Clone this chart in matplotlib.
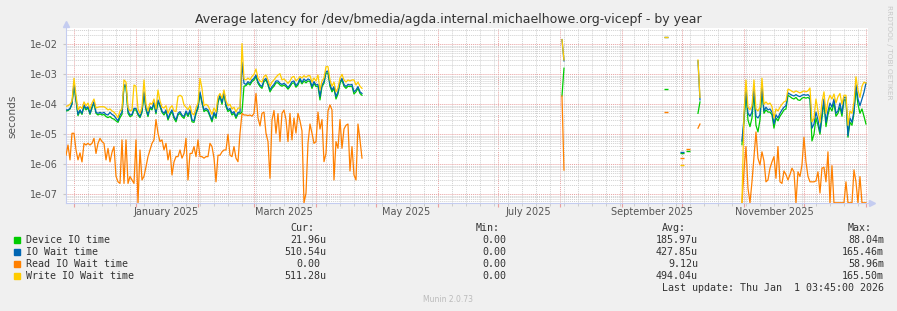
import numpy as np
import pandas as pd
import matplotlib
matplotlib.use('Agg')
import matplotlib.pyplot as plt
import matplotlib.dates as mdates
from matplotlib.ticker import LogLocator, FuncFormatter, NullFormatter
from matplotlib.patches import Rectangle

nan = np.nan

# ---------------------------------------------------------------
# daily averages (seconds), first block starts 2024-11-27
# ---------------------------------------------------------------
seg1_start = '2024-11-27'

device_seg1 = [
    6.0e-5, 6.2e-5, 7.0e-5, 1.0e-4, 4.5e-4, 1.3e-4, 4.2e-5, 6.0e-5, 4.6e-5, 8.5e-5,
    6.5e-5, 7.5e-5, 4.6e-5, 7.5e-5, 1.1e-4, 5.0e-5, 4.4e-5, 4.8e-5, 4.4e-5, 4.6e-5,
    3.9e-5, 3.6e-5, 3.9e-5, 3.4e-5, 3.2e-5, 2.8e-5, 2.5e-5, 3.6e-5, 4.6e-5, 4.0e-4,
    3.9e-4, 5.0e-5, 3.9e-5, 4.2e-5, 6.5e-5, 6.5e-5, 4.4e-5, 3.6e-5, 5.4e-5, 2.3e-4,
    6.5e-5, 3.9e-5, 7.5e-5, 6.5e-5, 1.05e-4, 4.8e-5, 1.25e-4, 8.5e-5, 5.4e-5, 4.4e-5,
    5.7e-5, 3.0e-5, 4.4e-5, 5.7e-5, 3.4e-5, 2.6e-5, 4.4e-5, 5.0e-5, 3.9e-5, 3.4e-5,
    5.4e-5, 3.9e-5, 5.7e-5, 2.6e-5, 2.5e-5, 4.8e-5, 7.3e-5, 2.3e-4, 1.1e-4, 5.7e-5,
    6.5e-5, 5.7e-5, 3.9e-5, 2.6e-5, 4.8e-5, 3.4e-5, 1.16e-4, 1.8e-4, 1.0e-4, 2.3e-4,
    8.3e-5, 5.7e-5, 6.5e-5, 4.4e-5, 5.0e-5, 3.4e-5, 4.8e-5, 4.8e-5, 5.5e-5, 4.0e-4,
    4.2e-4, 5.0e-4, 4.4e-4, 5.7e-4, 6.5e-4, 8.3e-4, 5.0e-4, 3.9e-4, 3.4e-4, 5.7e-4,
    6.5e-4,
    4.4e-4, 2.6e-4, 3.4e-4, 4.0e-4, 5.2e-4, 5.2e-4, 4.4e-4, 4.0e-4, 4.4e-4, 3.9e-4,
    3.2e-4, 3.9e-4, 5.0e-4, 5.2e-4, 3.7e-4, 4.4e-4, 6.5e-4, 4.8e-4, 6.0e-4, 5.2e-4,
    6.0e-4, 5.7e-4, 3.4e-4, 5.0e-4, 3.9e-4, 4.0e-4, 1.4e-4, 3.9e-4, 5.0e-4, 1.1e-3,
    1.1e-3, 4.0e-4, 2.6e-4, 3.4e-4, 1.5e-4, 2.2e-4, 5.0e-4, 6.5e-4, 4.0e-4, 3.4e-4,
    4.0e-4, 3.9e-4, 4.0e-4, 2.2e-4, 2.6e-4, 3.4e-4, 2.3e-4, 2.0e-4,
]

iowait_seg1 = [
    6.5e-5, 6.5e-5, 7.3e-5, 1.08e-4, 5.0e-4, 1.5e-4, 4.6e-5, 6.5e-5, 5.0e-5, 9.5e-5,
    7.3e-5, 8.3e-5, 5.0e-5, 8.3e-5, 1.22e-4, 5.4e-5, 5.0e-5, 5.4e-5, 5.0e-5, 5.4e-5,
    4.6e-5, 4.4e-5, 5.4e-5, 4.6e-5, 4.2e-5, 3.4e-5, 2.8e-5, 4.4e-5, 5.4e-5, 4.4e-4,
    4.4e-4, 6.0e-5, 4.4e-5, 4.6e-5, 7.3e-5, 7.3e-5, 5.0e-5, 3.9e-5, 6.0e-5, 2.6e-4,
    7.3e-5, 4.4e-5, 8.3e-5, 7.3e-5, 1.16e-4, 5.4e-5, 1.39e-4, 9.5e-5, 6.0e-5, 5.0e-5,
    6.5e-5, 3.4e-5, 5.0e-5, 6.5e-5, 3.9e-5, 3.0e-5, 5.0e-5, 5.7e-5, 4.4e-5, 3.9e-5,
    6.0e-5, 4.4e-5, 6.5e-5, 3.0e-5, 2.8e-5, 5.4e-5, 8.3e-5, 2.6e-4, 1.22e-4, 6.5e-5,
    7.3e-5, 6.5e-5, 4.4e-5, 3.0e-5, 5.4e-5, 3.9e-5, 1.3e-4, 2.0e-4, 1.16e-4, 2.6e-4,
    9.5e-5, 6.5e-5, 7.3e-5, 5.0e-5, 5.7e-5, 3.9e-5, 5.4e-5, 5.4e-5, 2.5e-3, 5.0e-4,
    4.6e-4, 5.7e-4, 5.0e-4, 6.5e-4, 7.3e-4, 9.5e-4, 5.7e-4, 4.4e-4, 3.9e-4, 6.5e-4,
    7.3e-4,
    5.0e-4, 3.0e-4, 3.9e-4, 4.6e-4, 6.0e-4, 6.0e-4, 5.0e-4, 4.6e-4, 5.0e-4, 4.4e-4,
    3.6e-4, 4.4e-4, 5.7e-4, 6.0e-4, 4.2e-4, 5.0e-4, 7.3e-4, 5.4e-4, 7.0e-4, 6.0e-4,
    7.0e-4, 6.5e-4, 3.9e-4, 5.7e-4, 4.4e-4, 4.6e-4, 1.8e-4, 4.4e-4, 5.7e-4, 1.22e-3,
    1.29e-3, 4.6e-4, 3.0e-4, 3.9e-4, 1.8e-4, 2.6e-4, 5.7e-4, 7.3e-4, 4.6e-4, 3.9e-4,
    4.6e-4, 4.4e-4, 4.6e-4, 2.6e-4, 3.0e-4, 3.9e-4, 2.6e-4, 2.3e-4,
]

read_seg1 = [
    2.0e-6, 4.4e-6, 1.4e-6, 1.08e-5, 1.08e-5, 3.0e-6, 1.4e-6, 2.4e-6, 1.2e-6, 5.0e-6,
    4.4e-6, 5.0e-6, 4.4e-6, 5.0e-6, 7.3e-6, 2.3e-6, 5.0e-6, 7.3e-6, 5.7e-6, 5.0e-6,
    1.4e-6, 3.4e-6, 1.2e-6, 2.5e-6, 3.9e-6, 4.0e-7, 2.6e-7, 2.3e-7, 6.5e-6, 2.3e-7,
    6.5e-6, 2.3e-7, 3.9e-7, 3.0e-7, 2.3e-7, 6.5e-6, 0.0, 3.0e-6, 3.0e-7, 4.0e-7,
    8.3e-7, 1.8e-6, 3.0e-6, 5.0e-6, 6.5e-6, 3.1e-5, 1.08e-5, 5.7e-6, 6.5e-6, 3.0e-6,
    5.0e-6, 1.4e-6, 3.0e-6, 4.4e-7, 1.2e-6, 1.8e-6, 1.8e-6, 3.0e-6, 1.6e-6, 2.3e-6,
    7.3e-6, 3.0e-7, 2.3e-6, 2.3e-6, 3.9e-6, 1.8e-6, 6.5e-6, 1.8e-6, 1.8e-6, 1.6e-6,
    1.8e-6, 1.8e-6, 5.0e-6, 3.9e-6, 1.6e-6, 2.6e-7, 2.0e-6, 2.0e-6, 2.6e-6, 3.0e-6,
    3.0e-6, 1.0e-5, 2.0e-6, 1.8e-6, 3.9e-6, 1.6e-6, 1.22e-6, 1.08e-5, 5.0e-5, 4.4e-5,
    4.4e-5, 4.2e-5, 4.4e-5, 4.0e-5, 5.0e-5, 2.3e-4, 3.5e-5, 1.9e-5, 5.0e-5, 5.5e-5,
    1.08e-5, 5.7e-6, 3.4e-7, 3.0e-5, 6.2e-5, 1.08e-5, 4.9e-5, 5.7e-6, 5.0e-5, 6.4e-5,
    3.1e-5, 5.7e-6, 5.0e-5, 6.5e-6, 3.5e-5, 1.1e-5, 5.0e-5, 2.8e-5, 1.3e-5, 0.0,
    1.08e-7, 5.0e-6, 2.2e-5, 1.08e-5, 5.0e-6, 5.7e-6, 5.5e-5, 1.5e-5, 3.1e-5, 1.22e-6,
    2.3e-6, 6.0e-5, 9.5e-5, 6.5e-5, 3.0e-7, 5.7e-6, 3.4e-6, 3.1e-5, 3.4e-6, 1.5e-5,
    2.0e-5, 2.2e-5, 6.0e-7, 3.9e-6, 4.4e-7, 3.0e-7, 2.2e-5, 6.5e-6, 1.6e-6,
]

write_seg1 = [
    8.5e-5, 9.0e-5, 1.0e-4, 1.3e-4, 7.4e-4, 2.0e-4, 6.5e-5, 8.3e-5, 7.3e-5, 1.2e-4,
    9.0e-5, 1.1e-4, 7.0e-5, 1.1e-4, 1.5e-4, 7.5e-5, 8.0e-5, 8.3e-5, 8.3e-5, 8.3e-5,
    7.5e-5, 6.5e-5, 7.0e-5, 6.0e-5, 5.5e-5, 4.5e-5, 3.6e-5, 6.0e-5, 7.0e-5, 6.5e-4,
    5.5e-4, 8.0e-5, 6.0e-5, 6.5e-5, 4.4e-4, 4.0e-4, 7.0e-5, 5.0e-5, 8.0e-5, 6.5e-4,
    1.0e-4, 6.0e-5, 1.1e-4, 1.0e-4, 1.5e-4, 7.0e-5, 3.0e-4, 1.3e-4, 8.0e-5, 7.5e-5,
    9.0e-5, 5.0e-5, 7.5e-5, 9.0e-5, 6.0e-5, 5.7e-5, 1.8e-4, 2.0e-4, 1.8e-4, 9.5e-5,
    8.0e-5, 6.5e-5, 9.0e-5, 5.0e-5, 4.4e-5, 7.5e-5, 1.1e-4, 7.3e-4, 3.4e-4, 9.0e-5,
    1.0e-4, 9.0e-5, 6.5e-5, 4.6e-5, 7.5e-5, 5.5e-5, 1.8e-4, 2.3e-4, 1.6e-4, 3.0e-4,
    1.3e-4, 9.0e-5, 1.0e-4, 7.0e-5, 8.0e-5, 5.5e-5, 7.5e-5, 7.5e-5, 1.06e-2, 7.0e-4,
    6.5e-4, 7.5e-4, 6.5e-4, 8.5e-4, 1.0e-3, 1.5e-3, 7.5e-4, 6.0e-4, 5.5e-4, 8.5e-4,
    9.5e-4,
    6.5e-4, 4.0e-4, 5.5e-4, 6.5e-4, 8.0e-4, 9.5e-4, 1.05e-3, 6.5e-4, 7.0e-4, 6.0e-4,
    5.0e-4, 6.0e-4, 8.0e-4, 8.5e-4, 6.0e-4, 7.0e-4, 8.5e-4, 7.5e-4, 9.0e-4, 8.0e-4,
    9.0e-4, 9.0e-4, 5.5e-4, 7.5e-4, 6.0e-4, 9.5e-4, 3.0e-4, 6.0e-4, 7.5e-4, 1.8e-3,
    1.8e-3, 6.5e-4, 4.0e-4, 5.5e-4, 2.6e-4, 3.5e-4, 7.5e-4, 1.0e-3, 6.5e-4, 5.5e-4,
    6.5e-4, 6.0e-4, 6.5e-4, 6.5e-4, 4.4e-4, 5.5e-4, 4.0e-4, 3.4e-4,
]

# a few isolated days between August and October 2025
sparse_days = ['2025-08-02', '2025-08-03', '2025-09-23', '2025-10-01',
               '2025-10-04', '2025-10-09', '2025-10-10']
device_sparse = [1.9e-4, 1.6e-3, 3.2e-4, 2.4e-6, 2.7e-6, 5.0e-5, 1.2e-4]
iowait_sparse = [1.44e-2, 2.8e-3, 1.7e-2, 2.5e-6, nan, 2.8e-3, 1.4e-4]
read_sparse = [1.9e-4, 6.4e-7, 5.5e-5, 1.6e-6, 3.2e-6, 1.6e-5, 2.2e-5]
write_sparse = [1.44e-2, 3.0e-3, 1.7e-2, 9.5e-7, nan, 3.0e-3, 1.7e-4]

# last block, starts 2025-10-31
seg3_start = '2025-10-31'

device_seg3 = [
    4.5e-6, 2.5e-5, 2.5e-4, 3.0e-5, 1.8e-5, 3.5e-5, 2.5e-4, 2.0e-5, 1.2e-5, 3.0e-5,
    3.0e-4, 5.0e-5, 6.5e-5, 5.5e-5, 5.5e-5, 4.5e-5, 1.6e-5, 3.5e-5, 2.8e-5, 4.0e-5,
    5.0e-5, 6.5e-5, 7.0e-5, 2.0e-4, 1.8e-4, 1.6e-4, 1.5e-4, 1.7e-4, 1.4e-4, 1.35e-4,
    1.6e-4, 1.7e-4, 1.6e-4, 1.7e-4, 1.5e-4, 6.0e-6, 1.0e-5, 3.5e-5, 2.0e-5, 1.0e-5,
    3.5e-5, 1.2e-4, 1.8e-5, 4.5e-5, 8.0e-5, 6.0e-5, 1.1e-4, 4.0e-5, 5.0e-5, 8.0e-5,
    4.0e-5, 1.4e-4, 1.4e-4, 8.0e-6, 2.5e-5, 2.0e-5, 5.0e-5, 3.5e-4, 1.0e-4, 5.0e-5,
    7.0e-5, 4.0e-5, 2.2e-5,
]

iowait_seg3 = [
    6.0e-6, 3.5e-5, 3.0e-4, 5.0e-5, 4.0e-5, 5.5e-5, 3.5e-4, 4.0e-5, 3.5e-5, 4.5e-5,
    4.0e-4, 6.0e-5, 8.0e-5, 6.5e-5, 7.0e-5, 5.5e-5, 2.2e-5, 4.5e-5, 3.5e-5, 5.0e-5,
    6.5e-5, 8.0e-5, 9.0e-5, 2.4e-4, 2.2e-4, 2.0e-4, 1.9e-4, 2.1e-4, 1.9e-4, 1.8e-4,
    2.0e-4, 2.1e-4, 2.0e-4, 2.1e-4, 1.8e-4, 1.6e-5, 2.2e-5, 5.5e-5, 3.0e-5, 1.2e-5,
    5.0e-5, 1.5e-4, 2.5e-5, 6.0e-5, 1.1e-4, 8.0e-5, 1.5e-4, 5.0e-5, 6.0e-5, 1.1e-4,
    5.0e-5, 1.7e-4, 1.7e-4, 9.0e-6, 3.5e-5, 2.5e-5, 6.0e-5, 4.5e-4, 1.5e-4, 9.0e-5,
    1.5e-4, 2.5e-4, 5.1e-4,
]

read_seg3 = [
    0.0, 6.0e-7, 3.9e-6, 1.6e-7, 0.0, 2.6e-7, 1.8e-6, 1.2e-5, 1.6e-6, 9.5e-7,
    2.6e-6, 1.3e-6, 2.6e-7, 3.0e-7, 7.4e-7, 1.2e-6, 1.8e-6, 3.4e-7, 3.9e-6, 2.6e-7,
    2.3e-7, 6.0e-7, 4.5e-7, 3.0e-7, 4.5e-7, 7.4e-7, 5.6e-7, 0.0, 5.6e-7, 3.9e-7,
    9.5e-7, 8.0e-6, 1.2e-6, 4.0e-7, 2.6e-7, 2.6e-7, 2.6e-7, 2.8e-7, 5.6e-7, 1.1e-7,
    7.4e-7, 8.0e-7, 2.6e-7, 2.6e-6, 0.0, 9.0e-7, 0.0, 0.0, 0.0, 0.0,
    0.0, 0.0, 2.6e-7, 0.0, 0.0, 0.0, 6.5e-7, 2.6e-7, 0.0, 3.9e-7,
    0.0, 0.0, 0.0,
]

write_seg3 = [
    0.0, 5.0e-5, 6.5e-4, 8.0e-5, 6.5e-5, 9.0e-5, 6.5e-4, 7.0e-5, 6.0e-5, 8.0e-5,
    7.4e-4, 1.0e-4, 1.2e-4, 1.0e-4, 1.1e-4, 8.5e-5, 3.5e-5, 7.0e-5, 6.0e-5, 8.0e-5,
    1.0e-4, 1.2e-4, 1.3e-4, 3.2e-4, 3.0e-4, 2.7e-4, 2.5e-4, 2.8e-4, 2.6e-4, 2.4e-4,
    2.6e-4, 2.8e-4, 2.6e-4, 2.8e-4, 3.5e-4, 2.6e-5, 3.4e-5, 1.5e-4, 6.0e-5, 2.5e-5,
    1.2e-4, 2.6e-4, 5.0e-5, 1.3e-4, 2.0e-4, 1.5e-4, 2.2e-4, 1.1e-4, 1.8e-4, 2.3e-4,
    1.0e-4, 2.0e-4, 2.0e-4, 2.0e-5, 6.0e-5, 5.0e-5, 1.2e-4, 8.3e-4, 3.0e-4, 1.7e-4,
    4.0e-4, 5.5e-4, 5.1e-4,
]

# legend block
legend_labels = ['Device IO time', 'IO Wait time', 'Read IO Wait time', 'Write IO Wait time']
legend_colors = ['#00cc00', '#0066b3', '#ff8000', '#ffcc00']
cur_vals = ['21.96u', '510.54u', '0.00', '511.28u']
min_vals = ['0.00', '0.00', '0.00', '0.00']
avg_vals = ['185.97u', '427.85u', '9.12u', '494.04u']
max_vals = ['88.04m', '165.46m', '58.96m', '165.50m']

month_labels = ['January 2025', 'March 2025', 'May 2025', 'July 2025',
                'September 2025', 'November 2025']
month_label_dates = ['2025-01-16', '2025-03-16', '2025-05-16', '2025-07-16',
                     '2025-09-16', '2025-11-16']

title = 'Average latency for /dev/bmedia/agda.internal.michaelhowe.org-vicepf - by year'

# ---------------------------------------------------------------
all_days = pd.date_range('2024-11-27', '2026-01-01', freq='D')


def build(seg1, sparse, seg3):
    s = pd.Series(nan, index=all_days)
    s.loc[pd.date_range(seg1_start, periods=len(seg1), freq='D')] = seg1
    s.loc[pd.to_datetime(sparse_days)] = sparse
    s.loc[pd.date_range(seg3_start, periods=len(seg3), freq='D')] = seg3
    return s


ymin, ymax = 5.0e-8, 3.5e-2
W, H = 897, 311

fig = plt.figure(figsize=(W / 100, H / 100), dpi=100, facecolor='#f0f0f0')
ax = fig.add_axes([66 / W, 1 - 203.3 / H, (868.3 - 66) / W, (203.3 - 28) / H])
ax.set_facecolor('white')

series = [
    (device_seg1, device_sparse, device_seg3),
    (iowait_seg1, iowait_sparse, iowait_seg3),
    (read_seg1, read_sparse, read_seg3),
    (write_seg1, write_sparse, write_seg3),
]
for (seg1, sparse, seg3), color in zip(series, legend_colors):
    s = build(seg1, sparse, seg3)
    # zero values sit on the bottom edge, like rrdtool does on a log scale
    s = s.clip(lower=ymin * 1.04)
    ax.plot(s.index, s.values, color=color, lw=0.9, zorder=3)
    # single days with no neighbours show up as a short dash
    lone = s.notna() & s.shift(1).isna() & s.shift(-1).isna()
    ax.plot(s.index[lone], s[lone].values, ls='none', marker='_', ms=2.5, mew=1.0,
            color=color, zorder=3)

ax.set_yscale('log')
ax.set_ylim(ymin, ymax)
ax.set_xlim(pd.Timestamp('2024-11-27'), pd.Timestamp('2026-01-02 04:00'))

ax.yaxis.set_major_locator(LogLocator(base=10, numticks=20))
ax.yaxis.set_minor_locator(LogLocator(base=10, subs=np.arange(2, 10), numticks=20))
ax.yaxis.set_major_formatter(FuncFormatter(lambda v, p: f'{v:.0e}'))
ax.yaxis.set_minor_formatter(NullFormatter())
ax.xaxis.set_major_locator(mdates.MonthLocator())
ax.xaxis.set_minor_locator(mdates.WeekdayLocator(byweekday=mdates.SU))

ax.grid(which='minor', color='#d0d0d0', linestyle=(0, (1, 1)), lw=0.7)
ax.grid(which='major', color='#e8a0a0', linestyle=(0, (1, 1)), lw=0.7)
ax.set_axisbelow(True)

ax.tick_params(axis='x', which='major', length=3, color='#e8a0a0', labelbottom=False)
ax.tick_params(axis='x', which='minor', length=2, color='#c8c8c8', labelbottom=False)
ax.tick_params(axis='y', which='major', length=2, color='#c8c8c8', pad=4,
               labelsize=7, labelcolor='#555555')
ax.tick_params(axis='y', which='minor', length=0)

for side in ['top', 'right']:
    ax.spines[side].set_visible(False)
axis_col = '#c4ccf0'
for side in ['left', 'bottom']:
    ax.spines[side].set_color(axis_col)
    ax.spines[side].set_linewidth(0.8)
ax.plot([0], [1.02], marker='^', ms=4.5, color=axis_col, transform=ax.transAxes, clip_on=False)
ax.plot([1.005], [0], marker='>', ms=4.5, color=axis_col, transform=ax.transAxes, clip_on=False)

for d, t in zip(month_label_dates, month_labels):
    ax.text(pd.Timestamp(d), -0.05, t, transform=ax.get_xaxis_transform(),
            ha='center', va='center', fontsize=7, color='#555555')

fig.text(0.5, 1 - 19 / H, title, ha='center', va='center', fontsize=9, color='#333333')
fig.text(12 / W, 1 - 116 / H, 'seconds', rotation=90, ha='center', va='center',
         fontsize=7.6, color='#555555')
fig.text(889 / W, 1 - 5 / H, 'RRDTOOL / TOBI OETIKER', rotation=270, ha='center', va='top',
         fontsize=5.3, color='#c8c8c8')

# legend table (monospace, like munin)
mono = dict(family='DejaVu Sans Mono', fontsize=7.2, color='#333333')
cw = 6.03  # one character in pixels
row_y = [240, 252, 264, 276]
col_right = [326, 512, 698, 884]
for x, head in zip(col_right, ['Cur:', 'Min:', 'Avg:', 'Max:']):
    fig.text((x - 2 * cw) / W, 1 - 228 / H, head, ha='right', va='center', **mono)
for i, y in enumerate(row_y):
    fig.add_artist(Rectangle((14 / W, 1 - (y + 3) / H), 6 / W, 6 / H,
                             transform=fig.transFigure, color=legend_colors[i]))
    fig.text(26 / W, 1 - y / H, legend_labels[i], ha='left', va='center', **mono)
    for x, v in zip(col_right, [cur_vals[i], min_vals[i], avg_vals[i], max_vals[i]]):
        shift = 0 if v[-1] in 'um' else cw
        fig.text((x - shift) / W, 1 - y / H, v, ha='right', va='center', **mono)
fig.text(884 / W, 1 - 288 / H, 'Last update: Thu Jan  1 03:45:00 2026', ha='right',
         va='center', **mono)
fig.text(448 / W, 1 - 300 / H, 'Munin 2.0.73', ha='center', va='center', fontsize=5.5,
         color='#bbbbbb')

fig.savefig('out.png', dpi=100, facecolor=fig.get_facecolor())
